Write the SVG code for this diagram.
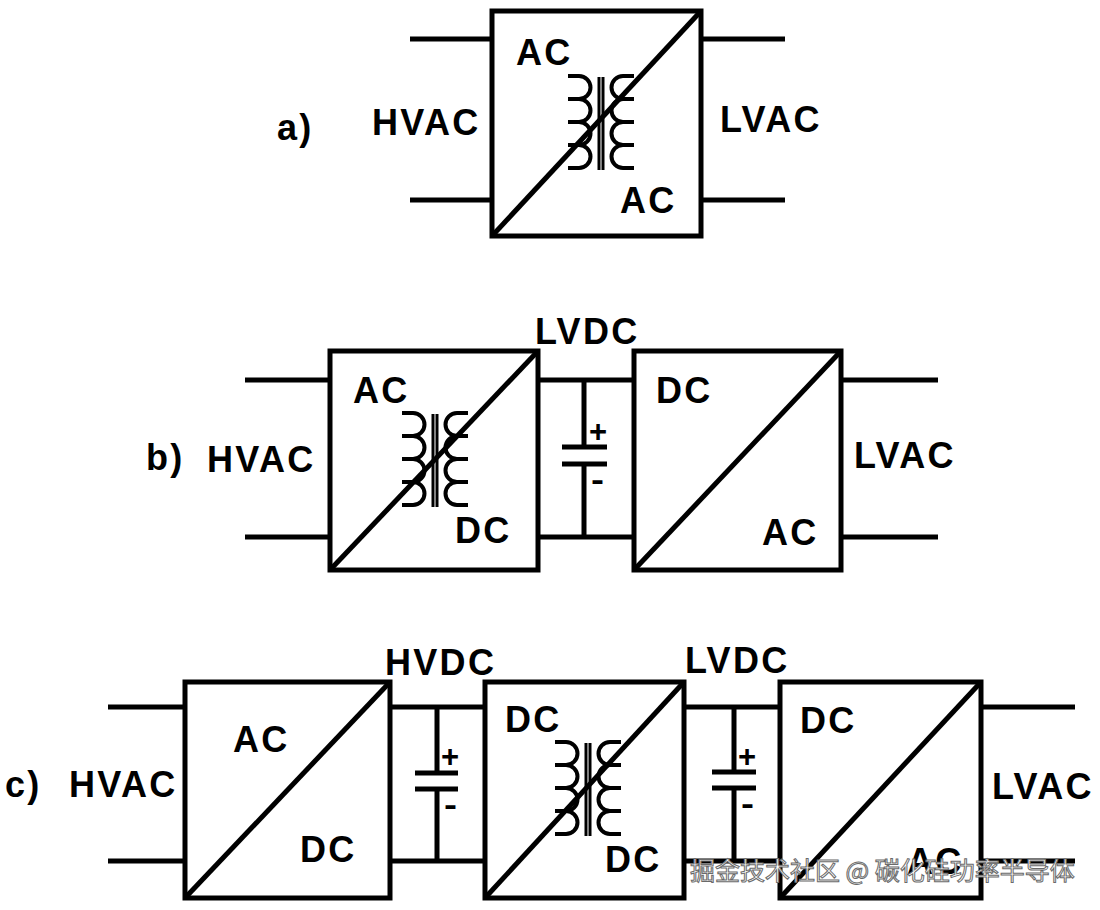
<svg xmlns="http://www.w3.org/2000/svg" xmlns:xlink="http://www.w3.org/1999/xlink" width="1100" height="910" viewBox="0 0 1100 910">
<style>
.box{fill:#fff;stroke:#000;stroke-width:5}
.diag{stroke:#000;stroke-width:5;fill:none}
.wire{stroke:#000;stroke-width:5;fill:none}
.plate{stroke:#000;stroke-width:5;fill:none}
.coil{stroke:#000;stroke-width:4;fill:none}
.core{stroke:#000;stroke-width:3;fill:none}
.lbl{font-family:"Liberation Sans",Arial,sans-serif;font-weight:bold;font-size:36px;letter-spacing:2.3px;fill:#000}
.pm{font-family:"Liberation Sans",Arial,sans-serif;font-weight:bold;font-size:31px;fill:#000}
.wm{font-family:"Noto Sans CJK SC","Noto Sans",sans-serif;font-size:25px;fill:#fff;stroke:#6a6a6a;stroke-width:1}
</style>
<defs>
<g id="xfmr">
<path class="coil" d="M-33,0 H-22 A11.5,11.5 0 0 1 -22,23 H-33 M-22,23 A11.5,11.5 0 0 1 -22,46 H-33 M-22,46 A11.5,11.5 0 0 1 -22,69 H-33 M-22,69 A11.5,11.5 0 0 1 -22,92 H-33"/>
<path class="coil" d="M33,0 H22 A11.5,11.5 0 0 0 22,23 H33 M22,23 A11.5,11.5 0 0 0 22,46 H33 M22,46 A11.5,11.5 0 0 0 22,69 H33 M22,69 A11.5,11.5 0 0 0 22,92 H33"/>
<path class="core" d="M-2,1 V94 M2,1 V94"/>
</g>
</defs>
<rect width="1100" height="910" fill="#fff"/>

<g id="connectors">
<path class="wire" d="M410,39 H492 M410,200 H492 M701,39 H785 M701,200 H785"/>
<path class="wire" d="M245,380 H330 M245,537 H330 M538,380 H634 M538,537 H634 M841,380 H938 M841,537 H938"/>
<path class="wire" d="M108,707 H185 M108,861 H185 M390,707 H485 M390,861 H485 M684,707 H780 M684,861 H780 M981,707 H1075 M981,861 H1075"/>
</g>

<g id="a_label"><text class="lbl" x="277" y="140">a)</text></g>
<g id="a_hvac"><text class="lbl" x="372" y="135">HVAC</text></g>
<g id="a_lvac"><text class="lbl" x="720" y="132">LVAC</text></g>
<g id="a_conv">
<rect class="box" x="492" y="11" width="209" height="225"/>
<use xlink:href="#xfmr" href="#xfmr" transform="translate(601,76)"/>
<line class="diag" x1="492" y1="236" x2="701" y2="11"/>
<text class="lbl" x="516" y="65">AC</text>
<text class="lbl" x="620" y="213">AC</text>
</g>

<g id="b_label"><text class="lbl" x="146" y="470">b)</text></g>
<g id="b_hvac"><text class="lbl" x="207" y="472">HVAC</text></g>
<g id="b_lvdc"><text class="lbl" x="535" y="344">LVDC</text></g>
<g id="b_lvac"><text class="lbl" x="854" y="468">LVAC</text></g>
<g id="b_conv1">
<rect class="box" x="330" y="351" width="208" height="219"/>
<use xlink:href="#xfmr" href="#xfmr" transform="translate(435,413)"/>
<line class="diag" x1="330" y1="570" x2="538" y2="351"/>
<text class="lbl" x="353" y="403">AC</text>
<text class="lbl" x="455" y="543">DC</text>
</g>
<g id="b_cap">
<path class="wire" d="M584,380 V447 M584,464 V537"/>
<path class="plate" d="M562,447 H607 M562,464 H607"/>
<text class="pm" x="589" y="442">+</text>
<text class="pm" x="591" y="490" textLength="13" lengthAdjust="spacingAndGlyphs">-</text>
</g>
<g id="b_conv2">
<rect class="box" x="634" y="351" width="207" height="219"/>
<line class="diag" x1="634" y1="570" x2="841" y2="351"/>
<text class="lbl" x="656" y="403">DC</text>
<text class="lbl" x="762" y="545">AC</text>
</g>

<g id="c_label"><text class="lbl" x="5" y="797">c)</text></g>
<g id="c_hvac"><text class="lbl" x="69" y="797">HVAC</text></g>
<g id="c_hvdc"><text class="lbl" x="385" y="675">HVDC</text></g>
<g id="c_lvdc"><text class="lbl" x="685" y="673">LVDC</text></g>
<g id="c_lvac"><text class="lbl" x="992" y="799">LVAC</text></g>
<g id="c_conv1">
<rect class="box" x="185" y="682" width="205" height="216"/>
<line class="diag" x1="185" y1="898" x2="390" y2="682"/>
<text class="lbl" x="233" y="752">AC</text>
<text class="lbl" x="300" y="862">DC</text>
</g>
<g id="c_cap1">
<path class="wire" d="M437,707 V773 M437,789 V861"/>
<path class="plate" d="M415,773 H458 M415,789 H458"/>
<text class="pm" x="441" y="767">+</text>
<text class="pm" x="444" y="815" textLength="13" lengthAdjust="spacingAndGlyphs">-</text>
</g>
<g id="c_conv2">
<rect class="box" x="485" y="682" width="199" height="216"/>
<use xlink:href="#xfmr" href="#xfmr" transform="translate(588,742)"/>
<line class="diag" x1="485" y1="898" x2="684" y2="682"/>
<text class="lbl" x="505" y="732">DC</text>
<text class="lbl" x="605" y="872">DC</text>
</g>
<g id="c_cap2">
<path class="wire" d="M734,707 V772 M734,788 V861"/>
<path class="plate" d="M712,772 H756 M712,788 H756"/>
<text class="pm" x="738" y="767">+</text>
<text class="pm" x="741" y="814" textLength="13" lengthAdjust="spacingAndGlyphs">-</text>
</g>
<g id="c_conv3">
<rect class="box" x="780" y="682" width="201" height="216"/>
<line class="diag" x1="780" y1="898" x2="981" y2="682"/>
<text class="lbl" x="800" y="733">DC</text>
<text class="lbl" x="907" y="874">AC</text>
</g>

<g id="watermark"><text class="wm" x="690" y="880">掘金技术社区 @ 碳化硅功率半导体</text></g>
</svg>
